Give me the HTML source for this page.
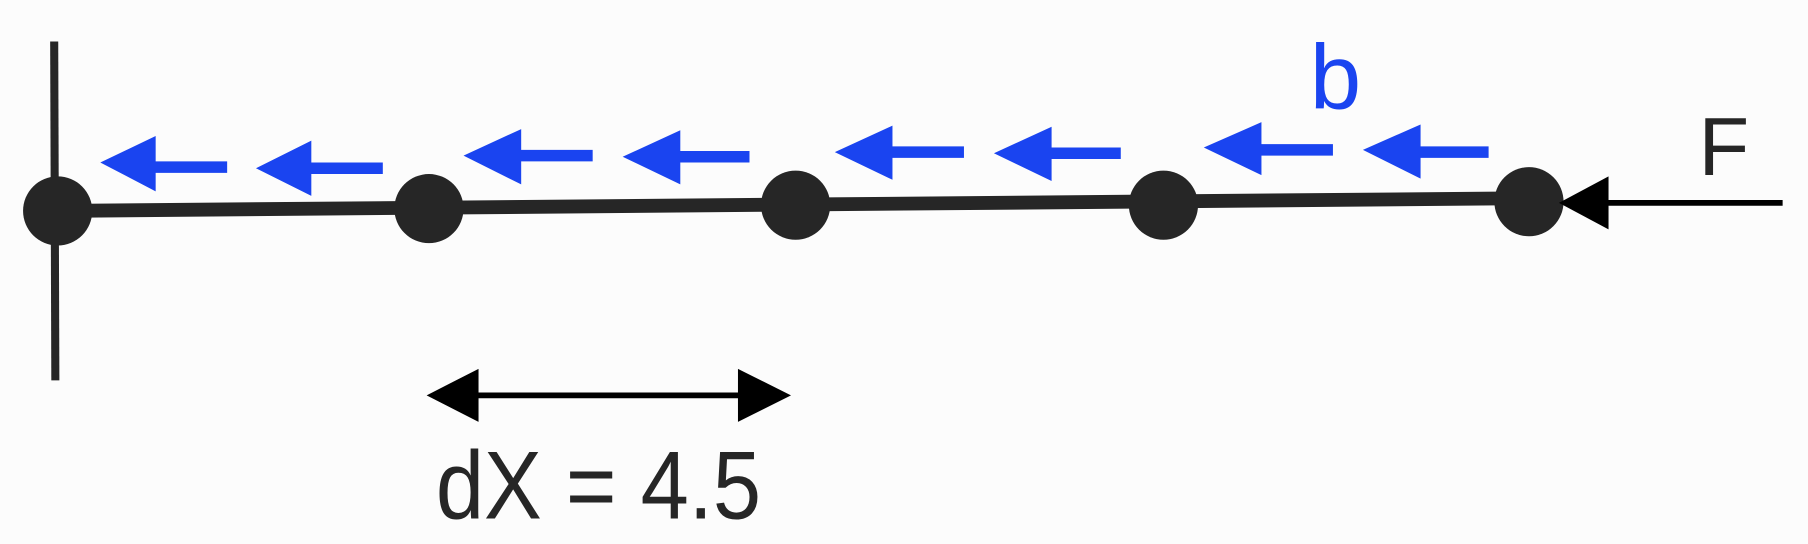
<!DOCTYPE html>
<html><head><style>html,body{margin:0;padding:0;background:#fcfcfc;}svg{display:block}</style></head>
<body>
<svg width="1808" height="544" viewBox="0 0 1568 472" preserveAspectRatio="none" xmlns="http://www.w3.org/2000/svg">
<rect width="1568" height="472" fill="#fcfcfc"/>
<line x1="47" y1="36" x2="48" y2="330" stroke="#262626" stroke-width="7"/>
<line x1="50" y1="183" x2="1326" y2="172" stroke="#262626" stroke-width="12"/>
<g fill="#262626">
<circle cx="50" cy="183" r="30"/>
<circle cx="372" cy="181" r="30"/>
<circle cx="690" cy="178" r="30"/>
<circle cx="1009" cy="178" r="30"/>
<circle cx="1326" cy="175" r="30"/>
</g>
<g fill="#1a44f0">
<polygon points="87,141 135,118 135,140 197,140 197,150 135,150 135,166"/>
<polygon points="222,146 270,122 270,141 332,141 332,151 270,151 270,170"/>
<polygon points="402,135 452,112 452,130 514,130 514,140 452,140 452,160"/>
<polygon points="540,136 590,113 590,131 650,131 650,141 590,141 590,160"/>
<polygon points="724,132 774,109 774,127 836,127 836,137 774,137 774,156"/>
<polygon points="862,133 912,110 912,128 972,128 972,138 912,138 912,157"/>
<polygon points="1044,128 1094,106 1094,125 1156,125 1156,135 1094,135 1094,152"/>
<polygon points="1182,130 1232,108 1232,127 1291,127 1291,137 1232,137 1232,155"/>
</g>
<line x1="1390" y1="176" x2="1546" y2="176" stroke="#000" stroke-width="5"/>
<polygon points="1352,176 1395,153 1395,199" fill="#000"/>
<line x1="410" y1="343" x2="645" y2="343" stroke="#000" stroke-width="5"/>
<polygon points="370,343 415,320 415,366" fill="#000"/>
<polygon points="686,343 640,320 640,366" fill="#000"/>
<text x="1136" y="94" font-family="Liberation Sans, sans-serif" font-size="80" fill="#1a44f0">b</text>
<text x="1473" y="152" font-family="Liberation Sans, sans-serif" font-size="72" fill="#262626">F</text>
<text x="378" y="450" font-family="Liberation Sans, sans-serif" font-size="84" fill="#262626" textLength="282" lengthAdjust="spacingAndGlyphs">dX = 4.5</text>
</svg>
</body></html>
